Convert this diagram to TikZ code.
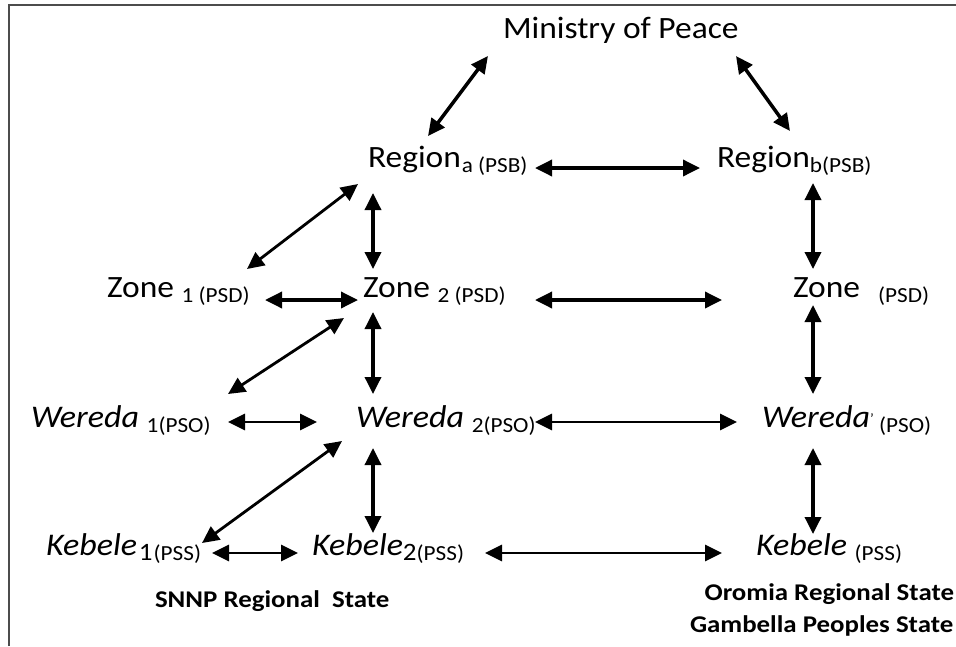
\documentclass[tikz,border=0pt]{standalone}
\usepackage{fontspec}
\setmainfont{Carlito}[FakeStretch=1.08]
\newfontfamily\statefont{Carlito}[FakeStretch=1.12]
\usetikzlibrary{arrows.meta}
\newcommand{\mysub}[1]{\raisebox{-5pt}{\fontsize{21.5}{24}\selectfont\upshape #1}}
\newcommand{\mysubd}[2]{\raisebox{-5pt}{{\fontsize{25}{27}\selectfont\upshape #1}{\fontsize{21.5}{24}\selectfont\upshape #2}}}
\tikzset{
  lbl/.style={anchor=base west, inner sep=0pt, outer sep=0pt, font=\fontsize{31}{36}\selectfont},
  ilbl/.style={lbl, font=\fontsize{31.5}{36}\selectfont\itshape},
  state/.style={anchor=base west, inner sep=0pt, outer sep=0pt, font=\statefont\fontsize{24}{27}\selectfont\bfseries},
  arr/.style={{Triangle[length=17pt,width=16pt]}-{Triangle[length=17pt,width=16pt]}, line width=3.5pt},
  tarr/.style={arr, line width=2.8pt},
  frame/.style={line width=2.5pt, draw=black!70}
}
\begin{document}
\begin{tikzpicture}[x=1pt, y=-1pt]
\useasboundingbox (0,0) rectangle (956,646);
\draw[frame] (9,646) -- (9,5) -- (956,5);

\node[lbl] (mp) at (503,38) {Ministry of Peace};
\node[lbl] (ra) at (368,167) {Region\kern1pt\mysub{a\hspace{5pt}(PSB)}};
\node[lbl] (rb) at (717,167) {Region\mysub{b(PSB)}};
\node[lbl] (z1) at (107,297) {Zone \mysub{1 (PSD)}};
\node[lbl] (z2) at (363,297) {Zone \mysub{2 (PSD)}};
\node[lbl] (z3) at (793,297) {Zone \mysub{\ \ (PSD)}};
\node[ilbl] (w1) at (31,427) {Wereda \mysub{1(PSO)}};
\node[ilbl] (w2) at (356,427) {Wereda \mysub{2(PSO)}};
\node[ilbl] (w3) at (762,427) {Wereda\raisebox{4pt}{\fontsize{14}{16}\selectfont\upshape '}\mysub{ (PSO)}};
\node[ilbl] (k1) at (46,555) {Kebele\kern2pt\mysubd{1}{\kern1pt(PSS)}};
\node[ilbl] (k2) at (312,555) {Kebele\mysubd{2}{(PSS)}};
\node[ilbl] (k3) at (756,555) {Kebele \mysub{(PSS)}};
\node[state] (snnp) at (155,607) {SNNP Regional\ \ State};
\node[state, anchor=base east] (oro) at (954,600) {Oromia Regional State};
\node[state] (gam) at (690,632) {Gambella Peoples State};

\draw[arr] ([shift={(-15,18)}]mp.base west) -- ([shift={(60,-31)}]ra.base west);
\draw[arr] ([shift={(233,18)}]mp.base west) -- ([shift={(73,-36)}]rb.base west);
\draw[arr] ([shift={(167,1)}]ra.base west) -- ([shift={(-17,1)}]rb.base west);
\draw[tarr] ([shift={(-10,17)}]ra.base west) -- ([shift={(140,-28)}]z1.base west);
\draw[arr] ([shift={(5,26)}]ra.base west) -- ([shift={(10,-28)}]z2.base west);
\draw[arr] ([shift={(96,16)}]rb.base west) -- ([shift={(20,-28)}]z3.base west);
\draw[arr] ([shift={(158,3)}]z1.base west) -- ([shift={(-5,3)}]z2.base west);
\draw[arr] ([shift={(172,3)}]z2.base west) -- ([shift={(-71,3)}]z3.base west);
\draw[tarr] ([shift={(-19,21)}]z2.base west) -- ([shift={(197,-33)}]w1.base west);
\draw[arr] ([shift={(10,15)}]z2.base west) -- ([shift={(17,-33)}]w2.base west);
\draw[arr] ([shift={(20,8)}]z3.base west) -- ([shift={(51,-33)}]w3.base west);
\draw[tarr] ([shift={(197,-5)}]w1.base west) -- ([shift={(-39,-5)}]w2.base west);
\draw[tarr] ([shift={(179,-5)}]w2.base west) -- ([shift={(-25,-5)}]w3.base west);
\draw[tarr] ([shift={(-14,14)}]w2.base west) -- ([shift={(156,-12)}]k1.base west);
\draw[arr] ([shift={(17,21)}]w2.base west) -- ([shift={(61,-22)}]k2.base west);
\draw[arr] ([shift={(51,21)}]w3.base west) -- ([shift={(57,-21)}]k3.base west);
\draw[tarr] ([shift={(166,-2)}]k1.base west) -- ([shift={(-14,-2)}]k2.base west);
\draw[tarr] ([shift={(173,-2)}]k2.base west) -- ([shift={(-34,-2)}]k3.base west);
\end{tikzpicture}
\end{document}
